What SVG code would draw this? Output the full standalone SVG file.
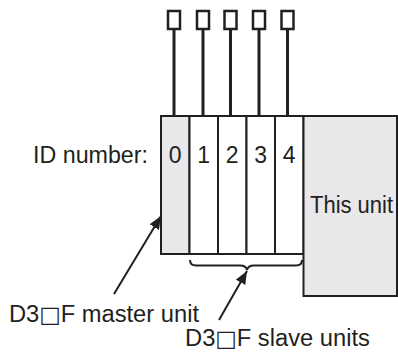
<svg xmlns="http://www.w3.org/2000/svg" width="398" height="352" viewBox="0 0 398 352">
<style>
.mod{stroke:#231f20;stroke-width:2}
.grey{fill:#e8e8ea}
.white{fill:#ffffff}
.wire{stroke:#231f20;stroke-width:3;fill:none}
.term{fill:#ffffff;stroke:#231f20;stroke-width:2.5}
.txt{font-family:"Liberation Sans",Arial,sans-serif;font-size:23px;fill:#231f20}
.sq{font-family:"DejaVu Sans",sans-serif;font-size:22px}
.ln{stroke:#231f20;stroke-width:2;fill:none}
</style>
<defs>
<marker id="ah2" viewBox="0 0 12 10" refX="12" refY="5" markerWidth="13" markerHeight="11" markerUnits="userSpaceOnUse" orient="auto">
<path d="M0,0 L12,5 L0,10 z" fill="#231f20"/>
</marker>
</defs>
<rect width="398" height="352" fill="#ffffff"/>
<g id="connectors">
<line class="wire" x1="174" y1="29" x2="174" y2="116"/>
<line class="wire" x1="203" y1="29" x2="203" y2="116"/>
<line class="wire" x1="230.5" y1="29" x2="230.5" y2="116"/>
<line class="wire" x1="259" y1="29" x2="259" y2="116"/>
<line class="wire" x1="287.5" y1="29" x2="287.5" y2="116"/>
<path class="ln" d="M114,294 L161,216" marker-end="url(#ah2)"/>
<path class="ln" d="M219,320 L247,271" marker-end="url(#ah2)"/>
<path class="ln" stroke-width="1.5" d="M190,260 Q190,265.5 196,265.5 L240,265.5 Q246,265.5 247,270 Q248,265.5 254,265.5 L296,265.5 Q302,265.5 302,260"/>
</g>
<g id="terminals">
<rect class="term" x="168" y="11" width="12" height="18"/>
<rect class="term" x="197" y="11" width="12" height="18"/>
<rect class="term" x="224.5" y="11" width="12" height="18"/>
<rect class="term" x="253" y="11" width="12" height="18"/>
<rect class="term" x="281.5" y="11" width="12" height="18"/>
</g>
<g id="master">
<rect class="mod grey" x="161" y="116" width="28.5" height="138"/>
<text class="txt" x="175.25" y="163" text-anchor="middle">0</text>
</g>
<g id="slave1">
<rect class="mod white" x="189.5" y="116" width="28.5" height="138"/>
<text class="txt" x="203.75" y="163" text-anchor="middle">1</text>
</g>
<g id="slave2">
<rect class="mod white" x="218" y="116" width="28.5" height="138"/>
<text class="txt" x="232.25" y="163" text-anchor="middle">2</text>
</g>
<g id="slave3">
<rect class="mod white" x="246.5" y="116" width="28.5" height="138"/>
<text class="txt" x="260.75" y="163" text-anchor="middle">3</text>
</g>
<g id="slave4">
<rect class="mod white" x="275" y="116" width="28.5" height="138"/>
<text class="txt" x="289.25" y="163" text-anchor="middle">4</text>
</g>
<g id="thisunit">
<rect class="mod grey" x="303.5" y="116" width="93.5" height="180"/>
<text class="txt" x="310" y="213" textLength="83" lengthAdjust="spacingAndGlyphs">This unit</text>
</g>
<g id="labels">
<text class="txt" x="33" y="163" textLength="115" lengthAdjust="spacingAndGlyphs">ID number:</text>
<text class="txt" x="9" y="322" textLength="190" lengthAdjust="spacingAndGlyphs">D3<tspan class="sq">□</tspan>F master unit</text>
<text class="txt" x="185" y="346" textLength="185" lengthAdjust="spacingAndGlyphs">D3<tspan class="sq">□</tspan>F slave units</text>
</g>
</svg>
